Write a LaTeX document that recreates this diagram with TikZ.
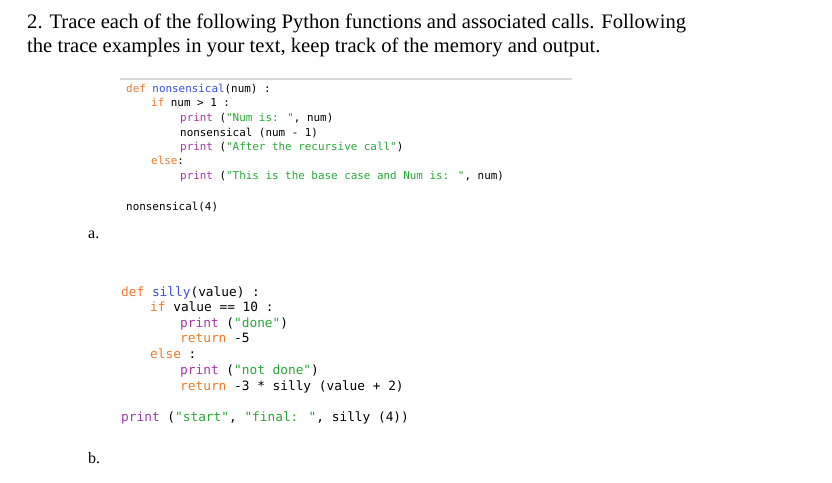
\documentclass[tikz,border=0pt]{standalone}
\usepackage{fontspec}
\setmainfont{Liberation Serif}
\newfontfamily\codefont{DejaVu Sans Mono}
\definecolor{kw}{HTML}{F07A2A}
\definecolor{fn}{HTML}{3A4FE0}
\definecolor{pr}{HTML}{A03AA8}
\definecolor{st}{HTML}{2AA83A}
\newcommand{\K}[1]{\textcolor{kw}{#1}}
\newcommand{\F}[1]{\textcolor{fn}{#1}}
\newcommand{\Pt}[1]{\textcolor{pr}{#1}}
\newcommand{\St}[1]{\textcolor{st}{#1}}
\begin{document}
\begin{tikzpicture}[x=1pt,y=-1pt,
  head/.style={anchor=base west,inner sep=0,font=\fontsize{20.6}{22}\selectfont},
  ca/.style={anchor=base west,inner sep=0,font=\codefont\fontsize{10.9}{12}\selectfont},
  cb/.style={anchor=base west,inner sep=0,font=\codefont\fontsize{12.8}{14}\selectfont},
  lab/.style={anchor=base west,inner sep=0,font=\fontsize{16}{18}\selectfont}]
\useasboundingbox[fill=white] (0,0) rectangle (832,482);
\node[head] (h1) at (27,28) {2. Trace each of the following Python functions and associated calls. Following};
\node[head] (h2) at (27,52) {the trace examples in your text, keep track of the memory and output.};
\draw[gray!30,line width=1.5] (120,79) -- (572,79);
\node[ca] (a1) at (126,92) {\K{def} \F{nonsensical}(num) :};
\node[ca] (a2) at (151,106) {\K{if} num > 1 :};
\node[ca] (a3) at (180,121) {\Pt{print} (\St{"Num is: "}, num)};
\node[ca] (a4) at (180,136) {nonsensical (num - 1)};
\node[ca] (a5) at (180,150) {\Pt{print} (\St{"After the recursive call"})};
\node[ca] (a6) at (151,164) {\K{else}:};
\node[ca] (a7) at (180,179) {\Pt{print} (\St{"This is the base case and Num is: "}, num)};
\node[ca] (a8) at (126,210) {nonsensical(4)};
\node[lab] (la) at (88,238) {a.};
\node[cb] (b1) at (121,296) {\K{def} \F{silly}(value) :};
\node[cb] (b2) at (150,311) {\K{if} value == 10 :};
\node[cb] (b3) at (180,327) {\Pt{print} (\St{"done"})};
\node[cb] (b4) at (180,342) {\K{return} -5};
\node[cb] (b5) at (150,358) {\K{else} :};
\node[cb] (b6) at (180,374) {\Pt{print} (\St{"not done"})};
\node[cb] (b7) at (180,390) {\K{return} -3 * silly (value + 2)};
\node[cb] (b8) at (121,421) {\Pt{print} (\St{"start"}, \St{"final: "}, silly (4))};
\node[lab] (lb) at (88,463) {b.};
\end{tikzpicture}
\end{document}
